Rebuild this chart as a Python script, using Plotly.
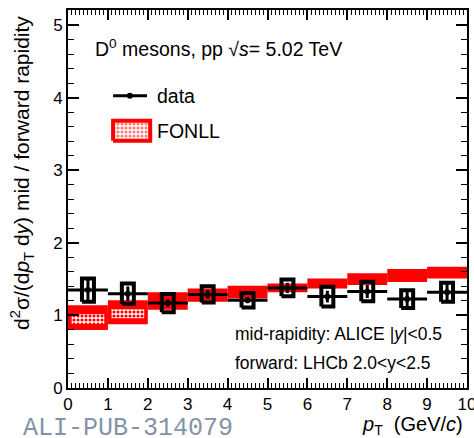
import plotly.graph_objects as go

# ---------------- data ----------------
bin_lo = [0, 1, 2, 3, 4, 5, 6, 7, 8, 9]
bin_hi = [1, 2, 3, 4, 5, 6, 7, 8, 9, 10]
data_val = [1.35, 1.30, 1.17, 1.29, 1.21, 1.38, 1.26, 1.33, 1.225, 1.32]
data_stat = [0.15, 0.10, 0.05, 0.06, 0.04, 0.07, 0.08, 0.09, 0.10, 0.13]
data_sys = [0.16, 0.14, 0.127, 0.113, 0.10, 0.117, 0.136, 0.136, 0.124, 0.13]
fonll_lo = [0.80, 0.88, 1.08, 1.19, 1.235, 1.32, 1.37, 1.42, 1.46, 1.51]
fonll_hi = [1.14, 1.21, 1.32, 1.37, 1.41, 1.44, 1.51, 1.58, 1.64, 1.67]

x_ticks = [0, 1, 2, 3, 4, 5, 6, 7, 8, 9, 10]
y_ticks = [0, 1, 2, 3, 4, 5]

FONT = "Liberation Sans"

pt = [(a + b) / 2 for a, b in zip(bin_lo, bin_hi)]
half_w = [(b - a) / 2 for a, b in zip(bin_lo, bin_hi)]

fig = go.Figure()

# FONLL band: solid red outer, dotted pattern interior where band is wide
fig.add_trace(go.Bar(
    x=pt, y=[h - l for l, h in zip(fonll_lo, fonll_hi)], base=fonll_lo,
    width=[2 * w for w in half_w],
    marker=dict(color="red", line=dict(width=0)), showlegend=False,
    hoverinfo="skip"))

m_top, m_bot = 0.124, 0.083
in_x, in_b, in_h = [], [], []
for x, l, h in zip(pt, fonll_lo, fonll_hi):
    b0, t0 = l + m_bot, h - m_top
    if t0 - b0 > 0.05:
        in_x.append(x)
        in_b.append(b0)
        in_h.append(t0 - b0)
fig.add_trace(go.Bar(
    x=in_x, y=in_h, base=in_b, width=0.82,
    marker=dict(color="white", line=dict(width=0),
                pattern=dict(shape=".", fgcolor="red", bgcolor="white",
                             size=4, solidity=0.5, fillmode="replace")),
    showlegend=False, hoverinfo="skip"))

# systematic boxes
box_hw = 0.15
bx, by = [], []
for x, v, s in zip(pt, data_val, data_sys):
    bx += [x - box_hw, x + box_hw, x + box_hw, x - box_hw, x - box_hw, None]
    by += [v - s, v - s, v + s, v + s, v - s, None]
fig.add_trace(go.Scatter(x=bx, y=by, mode="lines",
                         line=dict(color="black", width=4),
                         showlegend=False, hoverinfo="skip"))

# data points
fig.add_trace(go.Scatter(
    x=pt, y=data_val, mode="markers",
    marker=dict(color="black", size=6),
    error_x=dict(type="data", array=half_w, color="black", thickness=3, width=0),
    error_y=dict(type="data", array=data_stat, color="black", thickness=3, width=0),
    showlegend=False))

# legend glyphs on an overlay (0..1) axis
fig.add_trace(go.Scatter(x=[0.113, 0.198], y=[0.773, 0.773], mode="lines",
                         line=dict(color="black", width=3),
                         xaxis="x2", yaxis="y2", showlegend=False, hoverinfo="skip"))
fig.add_trace(go.Scatter(x=[0.155], y=[0.773], mode="markers",
                         marker=dict(color="black", size=6),
                         xaxis="x2", yaxis="y2", showlegend=False, hoverinfo="skip"))
fig.add_trace(go.Scatter(x=[0.113, 0.206, 0.206, 0.113, 0.113],
                         y=[0.654, 0.654, 0.707, 0.707, 0.654],
                         mode="lines", fill="toself", fillcolor="white",
                         fillpattern=dict(shape=".", fgcolor="red", bgcolor="white",
                                          size=4, solidity=0.5),
                         line=dict(color="red", width=4),
                         xaxis="x2", yaxis="y2", showlegend=False, hoverinfo="skip"))

axis_common = dict(
    ticks="inside", tickwidth=1.5, tickcolor="black",
    showline=True, linewidth=2, linecolor="black", mirror="ticks",
    showgrid=False, zeroline=False, ticklabeloverflow="allow", automargin=False,
    tickfont=dict(family=FONT, size=17, color="black"),
)

fig.update_layout(
    width=474, height=438,
    margin=dict(l=68, r=7, t=10, b=50, autoexpand=False),
    paper_bgcolor="white", plot_bgcolor="white",
    barmode="overlay",
    showlegend=False,
    font=dict(family=FONT, color="black"),
    xaxis=dict(range=[0, 10], tickvals=x_ticks, ticklen=10,
               minor=dict(dtick=0.1, tick0=0, ticks="inside", ticklen=5,
                          tickwidth=1, tickcolor="black"),
               **axis_common),
    yaxis=dict(range=[0, 5.21], tickvals=y_ticks, ticklen=11,
               minor=dict(dtick=0.2, tick0=0, ticks="inside", ticklen=6,
                          tickwidth=1, tickcolor="black"),
               **axis_common),
    xaxis2=dict(overlaying="x", range=[0, 1], visible=False, fixedrange=True),
    yaxis2=dict(overlaying="y", range=[0, 1], visible=False, fixedrange=True),
)

ann = [
    dict(text="D<sup>0</sup> mesons, pp √<i>s</i>= 5.02 TeV", x=0.063, y=0.90,
         xanchor="left", yanchor="middle", font=dict(size=19.5)),
    dict(text="data", x=0.218, y=0.773, xanchor="left", yanchor="middle",
         font=dict(size=19.5)),
    dict(text="FONLL", x=0.218, y=0.681, xanchor="left", yanchor="middle",
         font=dict(size=19.5)),
    dict(text="mid-rapidity: ALICE |<i>y</i>|&lt;0.5", x=0.414, y=0.143,
         xanchor="left", yanchor="middle", font=dict(size=17.5)),
    dict(text="forward: LHCb 2.0&lt;y&lt;2.5", x=0.414, y=0.066,
         xanchor="left", yanchor="middle", font=dict(size=17.5)),
    dict(text="<i>p</i><sub>T</sub>  (GeV/<i>c</i>)", x=0.995, y=-0.10,
         xanchor="right", yanchor="middle", font=dict(size=20)),
    dict(text="d<sup>2</sup>σ/(d<i>p</i><sub>T</sub> d<i>y</i>) mid / forward rapidity",
         x=-0.115, y=0.99, xanchor="center", yanchor="top", textangle=-90,
         font=dict(size=21)),
    dict(text="ALI-PUB-314079", x=-0.115, y=-0.107, xanchor="left",
         yanchor="middle", borderpad=0,
         font=dict(family="Liberation Mono", size=25, color="#8393a8")),
]
for a in ann:
    a.update(xref="paper", yref="paper", showarrow=False)
    fig.add_annotation(**a)

fig.write_html("out.html")
